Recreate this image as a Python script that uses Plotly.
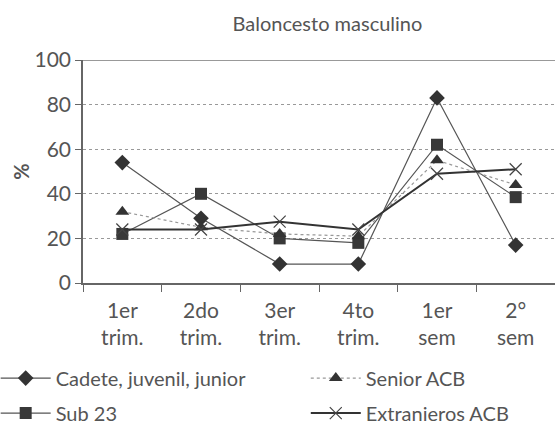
import plotly.graph_objects as go

categories = ["1er<br>trim.", "2do<br>trim.", "3er<br>trim.", "4to<br>trim.", "1er<br>sem", "2°<br>sem"]
cadete = [54, 29, 8.5, 8.5, 83, 17]
senior = [32, 25, 22, 21, 55, 44]
sub23 = [22, 40, 20, 18, 62, 38.5]
extranjeros = [24, 24, 27.5, 24, 49, 51]
y_ticks = [0, 20, 40, 60, 80, 100]

font_family = "Lato, Noto Sans, sans-serif"
txt = "#555555"

fig = go.Figure()
fig.add_trace(go.Scatter(x=categories, y=cadete, name="Cadete, juvenil, junior",
                         mode="lines+markers", line=dict(color="#555555", width=1.2),
                         marker=dict(symbol="diamond", size=12, color="#333333"),
                         legend="legend", legendgroup="a"))
fig.add_trace(go.Scatter(x=categories, y=sub23, name="Sub 23",
                         mode="lines+markers", line=dict(color="#555555", width=1.2),
                         marker=dict(symbol="square", size=12, color="#383838"),
                         legend="legend", legendgroup="b"))
fig.add_trace(go.Scatter(x=categories, y=senior, name="Senior ACB",
                         mode="lines+markers", line=dict(color="#999999", width=1.2, dash="dot"),
                         marker=dict(symbol="triangle-up", size=12, color="#333333"),
                         legend="legend2", legendgroup="c"))
fig.add_trace(go.Scatter(x=categories, y=extranjeros, name="Extranieros ACB",
                         mode="lines+markers", line=dict(color="#333333", width=2),
                         marker=dict(symbol="x-thin", size=12, color="#444444",
                                     line=dict(width=1.2, color="#444444")),
                         legend="legend2", legendgroup="d"))

leg_common = dict(xanchor="left", yanchor="middle",
                  y=-0.505, tracegroupgap=6, itemwidth=50,
                  font=dict(size=20, color=txt), bgcolor="rgba(0,0,0,0)")

fig.update_layout(
    width=555, height=425,
    margin=dict(l=83, r=0, t=60, b=142, autoexpand=False),
    paper_bgcolor="white", plot_bgcolor="white",
    font=dict(family=font_family, color=txt, size=20),
    title=dict(text="Baloncesto masculino", xref="container", x=0.59, xanchor="center",
               yref="container", y=0.943, yanchor="middle",
               font=dict(size=20, color=txt)),
    showlegend=True,
    legend=dict(x=-0.185, **leg_common),
    legend2=dict(x=0.472, **leg_common),
)
fig.update_yaxes(range=[0, 100], tickvals=y_ticks, showgrid=True, gridcolor="#999999",
                 griddash="dot", gridwidth=1, zeroline=False, showline=True,
                 linecolor="#666666", linewidth=1.5, ticks="outside", ticklen=6,
                 tickcolor="#666666", tickfont=dict(size=21, color=txt), automargin=False,
                 title=dict(text="<b>%</b>", font=dict(size=20, color=txt), standoff=0))
fig.update_xaxes(showline=True, linecolor="#666666", linewidth=1.5, ticks="outside",
                 tickson="boundaries", ticklen=7, tickcolor="#666666", showgrid=False,
                 tickangle=0, tickfont=dict(size=21, color=txt), range=[-0.5, 5.5],
                 ticklabelstandoff=8, automargin=False)
fig.add_shape(type="line", xref="paper", yref="y", x0=0, x1=1, y0=100, y1=100,
              line=dict(color="#777777", width=1.5))

fig.write_html("out.html", post_script="document.body.style.margin='0';",
               config={"displayModeBar": False})
